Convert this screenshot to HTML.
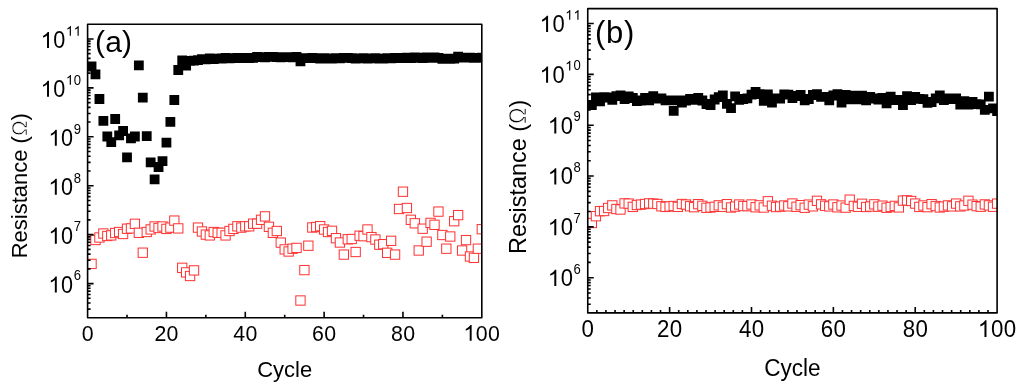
<!DOCTYPE html>
<html><head><meta charset="utf-8"><style>
html,body{margin:0;padding:0;background:#fff;}
svg{display:block;font-family:"Liberation Sans",sans-serif;}
</style></head><body>
<svg width="1024" height="386" viewBox="0 0 1024 386">
<rect width="1024" height="386" fill="#fff"/>
<clipPath id="ca"><rect x="87.6" y="24.2" width="394.20" height="293.60"/></clipPath>
<path clip-path="url(#ca)" d="M86.64 61.60h9.8v9.8h-9.8zM90.58 69.50h9.8v9.8h-9.8zM94.53 94.10h9.8v9.8h-9.8zM98.47 116.00h9.8v9.8h-9.8zM102.41 131.60h9.8v9.8h-9.8zM106.35 137.30h9.8v9.8h-9.8zM110.29 114.10h9.8v9.8h-9.8zM114.24 130.50h9.8v9.8h-9.8zM118.18 126.10h9.8v9.8h-9.8zM122.12 152.40h9.8v9.8h-9.8zM126.06 133.50h9.8v9.8h-9.8zM130.00 131.60h9.8v9.8h-9.8zM133.95 60.40h9.8v9.8h-9.8zM137.89 92.80h9.8v9.8h-9.8zM141.83 131.30h9.8v9.8h-9.8zM145.77 157.50h9.8v9.8h-9.8zM149.71 174.50h9.8v9.8h-9.8zM153.66 162.10h9.8v9.8h-9.8zM157.60 156.20h9.8v9.8h-9.8zM161.54 137.80h9.8v9.8h-9.8zM165.48 117.00h9.8v9.8h-9.8zM169.42 95.10h9.8v9.8h-9.8zM173.37 65.10h9.8v9.8h-9.8zM177.31 55.50h9.8v9.8h-9.8zM181.25 60.70h9.8v9.8h-9.8zM185.19 55.90h9.8v9.8h-9.8zM189.13 55.80h9.8v9.8h-9.8zM193.08 55.20h9.8v9.8h-9.8zM197.02 54.30h9.8v9.8h-9.8zM200.96 54.40h9.8v9.8h-9.8zM204.90 53.40h9.8v9.8h-9.8zM208.84 54.10h9.8v9.8h-9.8zM212.79 53.80h9.8v9.8h-9.8zM216.73 53.60h9.8v9.8h-9.8zM220.67 52.96h9.8v9.8h-9.8zM224.61 53.33h9.8v9.8h-9.8zM228.55 53.19h9.8v9.8h-9.8zM232.50 52.95h9.8v9.8h-9.8zM236.44 53.31h9.8v9.8h-9.8zM240.38 52.93h9.8v9.8h-9.8zM244.32 53.25h9.8v9.8h-9.8zM248.26 52.96h9.8v9.8h-9.8zM252.21 51.95h9.8v9.8h-9.8zM256.15 52.15h9.8v9.8h-9.8zM260.09 52.40h9.8v9.8h-9.8zM264.03 51.97h9.8v9.8h-9.8zM267.97 52.03h9.8v9.8h-9.8zM271.92 52.28h9.8v9.8h-9.8zM275.86 52.47h9.8v9.8h-9.8zM279.80 52.25h9.8v9.8h-9.8zM283.74 52.14h9.8v9.8h-9.8zM287.68 52.49h9.8v9.8h-9.8zM291.63 51.93h9.8v9.8h-9.8zM295.57 56.50h9.8v9.8h-9.8zM299.51 53.29h9.8v9.8h-9.8zM303.45 53.14h9.8v9.8h-9.8zM307.39 53.12h9.8v9.8h-9.8zM311.34 53.31h9.8v9.8h-9.8zM315.28 53.82h9.8v9.8h-9.8zM319.22 53.18h9.8v9.8h-9.8zM323.16 53.58h9.8v9.8h-9.8zM327.10 53.64h9.8v9.8h-9.8zM331.05 53.37h9.8v9.8h-9.8zM334.99 53.55h9.8v9.8h-9.8zM338.93 53.06h9.8v9.8h-9.8zM342.87 53.06h9.8v9.8h-9.8zM346.81 53.21h9.8v9.8h-9.8zM350.76 53.68h9.8v9.8h-9.8zM354.70 53.43h9.8v9.8h-9.8zM358.64 53.31h9.8v9.8h-9.8zM362.58 53.59h9.8v9.8h-9.8zM366.52 53.45h9.8v9.8h-9.8zM370.47 53.30h9.8v9.8h-9.8zM374.41 53.79h9.8v9.8h-9.8zM378.35 53.70h9.8v9.8h-9.8zM382.29 53.24h9.8v9.8h-9.8zM386.23 53.57h9.8v9.8h-9.8zM390.18 52.92h9.8v9.8h-9.8zM394.12 53.20h9.8v9.8h-9.8zM398.06 53.08h9.8v9.8h-9.8zM402.00 52.73h9.8v9.8h-9.8zM405.94 53.28h9.8v9.8h-9.8zM409.89 52.59h9.8v9.8h-9.8zM413.83 52.83h9.8v9.8h-9.8zM417.77 53.11h9.8v9.8h-9.8zM421.71 52.62h9.8v9.8h-9.8zM425.65 52.89h9.8v9.8h-9.8zM429.60 52.53h9.8v9.8h-9.8zM433.54 53.03h9.8v9.8h-9.8zM437.48 53.91h9.8v9.8h-9.8zM441.42 53.83h9.8v9.8h-9.8zM445.36 53.95h9.8v9.8h-9.8zM449.31 53.73h9.8v9.8h-9.8zM453.25 51.80h9.8v9.8h-9.8zM457.19 52.76h9.8v9.8h-9.8zM461.13 52.75h9.8v9.8h-9.8zM465.07 52.67h9.8v9.8h-9.8zM469.02 52.90h9.8v9.8h-9.8zM472.96 52.97h9.8v9.8h-9.8zM476.90 52.68h9.8v9.8h-9.8z" fill="#000"/>
<g clip-path="url(#ca)" fill="#fff" stroke="#ff3030" stroke-width="1.0"><rect x="86.89" y="259.25" width="9.3" height="9.3"/><rect x="90.83" y="235.35" width="9.3" height="9.3"/><rect x="94.78" y="232.85" width="9.3" height="9.3"/><rect x="98.72" y="228.85" width="9.3" height="9.3"/><rect x="102.66" y="231.35" width="9.3" height="9.3"/><rect x="106.60" y="230.75" width="9.3" height="9.3"/><rect x="110.54" y="228.35" width="9.3" height="9.3"/><rect x="114.49" y="227.35" width="9.3" height="9.3"/><rect x="118.43" y="229.35" width="9.3" height="9.3"/><rect x="122.37" y="224.05" width="9.3" height="9.3"/><rect x="126.31" y="223.75" width="9.3" height="9.3"/><rect x="130.25" y="219.15" width="9.3" height="9.3"/><rect x="134.20" y="228.15" width="9.3" height="9.3"/><rect x="138.14" y="248.05" width="9.3" height="9.3"/><rect x="142.08" y="227.35" width="9.3" height="9.3"/><rect x="146.02" y="224.75" width="9.3" height="9.3"/><rect x="149.96" y="221.85" width="9.3" height="9.3"/><rect x="153.91" y="223.35" width="9.3" height="9.3"/><rect x="157.85" y="221.85" width="9.3" height="9.3"/><rect x="161.79" y="224.25" width="9.3" height="9.3"/><rect x="165.73" y="222.95" width="9.3" height="9.3"/><rect x="169.67" y="215.95" width="9.3" height="9.3"/><rect x="173.62" y="223.75" width="9.3" height="9.3"/><rect x="177.56" y="263.15" width="9.3" height="9.3"/><rect x="181.50" y="267.75" width="9.3" height="9.3"/><rect x="185.44" y="271.35" width="9.3" height="9.3"/><rect x="189.38" y="265.75" width="9.3" height="9.3"/><rect x="193.33" y="222.95" width="9.3" height="9.3"/><rect x="197.27" y="226.85" width="9.3" height="9.3"/><rect x="201.21" y="229.95" width="9.3" height="9.3"/><rect x="205.15" y="230.75" width="9.3" height="9.3"/><rect x="209.09" y="227.35" width="9.3" height="9.3"/><rect x="213.04" y="228.15" width="9.3" height="9.3"/><rect x="216.98" y="228.15" width="9.3" height="9.3"/><rect x="220.92" y="230.75" width="9.3" height="9.3"/><rect x="224.86" y="226.35" width="9.3" height="9.3"/><rect x="228.80" y="224.25" width="9.3" height="9.3"/><rect x="232.75" y="221.65" width="9.3" height="9.3"/><rect x="236.69" y="222.95" width="9.3" height="9.3"/><rect x="240.63" y="221.65" width="9.3" height="9.3"/><rect x="244.57" y="221.65" width="9.3" height="9.3"/><rect x="248.51" y="219.05" width="9.3" height="9.3"/><rect x="252.46" y="219.05" width="9.3" height="9.3"/><rect x="256.40" y="215.15" width="9.3" height="9.3"/><rect x="260.34" y="211.75" width="9.3" height="9.3"/><rect x="264.28" y="222.15" width="9.3" height="9.3"/><rect x="268.22" y="228.15" width="9.3" height="9.3"/><rect x="272.17" y="226.35" width="9.3" height="9.3"/><rect x="276.11" y="237.95" width="9.3" height="9.3"/><rect x="280.05" y="244.75" width="9.3" height="9.3"/><rect x="283.99" y="246.85" width="9.3" height="9.3"/><rect x="287.93" y="244.05" width="9.3" height="9.3"/><rect x="291.88" y="243.25" width="9.3" height="9.3"/><rect x="295.82" y="295.85" width="9.3" height="9.3"/><rect x="299.76" y="265.45" width="9.3" height="9.3"/><rect x="303.70" y="241.05" width="9.3" height="9.3"/><rect x="307.64" y="222.85" width="9.3" height="9.3"/><rect x="311.59" y="222.35" width="9.3" height="9.3"/><rect x="315.53" y="221.55" width="9.3" height="9.3"/><rect x="319.47" y="224.85" width="9.3" height="9.3"/><rect x="323.41" y="227.35" width="9.3" height="9.3"/><rect x="327.35" y="226.15" width="9.3" height="9.3"/><rect x="331.30" y="233.55" width="9.3" height="9.3"/><rect x="335.24" y="237.85" width="9.3" height="9.3"/><rect x="339.18" y="249.95" width="9.3" height="9.3"/><rect x="343.12" y="234.65" width="9.3" height="9.3"/><rect x="347.06" y="234.35" width="9.3" height="9.3"/><rect x="351.01" y="247.35" width="9.3" height="9.3"/><rect x="354.95" y="231.05" width="9.3" height="9.3"/><rect x="358.89" y="231.55" width="9.3" height="9.3"/><rect x="362.83" y="224.85" width="9.3" height="9.3"/><rect x="366.77" y="232.45" width="9.3" height="9.3"/><rect x="370.72" y="234.85" width="9.3" height="9.3"/><rect x="374.66" y="240.05" width="9.3" height="9.3"/><rect x="378.60" y="239.55" width="9.3" height="9.3"/><rect x="382.54" y="248.15" width="9.3" height="9.3"/><rect x="386.48" y="236.15" width="9.3" height="9.3"/><rect x="390.43" y="249.95" width="9.3" height="9.3"/><rect x="394.37" y="204.35" width="9.3" height="9.3"/><rect x="398.31" y="187.05" width="9.3" height="9.3"/><rect x="402.25" y="203.35" width="9.3" height="9.3"/><rect x="406.19" y="215.15" width="9.3" height="9.3"/><rect x="410.14" y="218.65" width="9.3" height="9.3"/><rect x="414.08" y="245.85" width="9.3" height="9.3"/><rect x="418.02" y="224.05" width="9.3" height="9.3"/><rect x="421.96" y="237.05" width="9.3" height="9.3"/><rect x="425.90" y="218.25" width="9.3" height="9.3"/><rect x="429.85" y="220.15" width="9.3" height="9.3"/><rect x="433.79" y="206.95" width="9.3" height="9.3"/><rect x="437.73" y="230.35" width="9.3" height="9.3"/><rect x="441.67" y="244.05" width="9.3" height="9.3"/><rect x="445.61" y="231.85" width="9.3" height="9.3"/><rect x="449.56" y="216.55" width="9.3" height="9.3"/><rect x="453.50" y="210.45" width="9.3" height="9.3"/><rect x="457.44" y="245.85" width="9.3" height="9.3"/><rect x="461.38" y="235.45" width="9.3" height="9.3"/><rect x="465.32" y="251.85" width="9.3" height="9.3"/><rect x="469.27" y="253.15" width="9.3" height="9.3"/><rect x="473.21" y="244.05" width="9.3" height="9.3"/><rect x="477.15" y="224.55" width="9.3" height="9.3"/></g>
<clipPath id="cb"><rect x="587.75" y="8.6" width="409.35" height="304.30"/></clipPath>
<path clip-path="url(#cb)" d="M586.94 100.10h9.8v9.8h-9.8zM591.04 92.50h9.8v9.8h-9.8zM595.13 96.50h9.8v9.8h-9.8zM599.22 92.30h9.8v9.8h-9.8zM603.32 92.60h9.8v9.8h-9.8zM607.41 95.00h9.8v9.8h-9.8zM611.50 91.30h9.8v9.8h-9.8zM615.60 90.50h9.8v9.8h-9.8zM619.69 94.10h9.8v9.8h-9.8zM623.78 91.50h9.8v9.8h-9.8zM627.88 93.10h9.8v9.8h-9.8zM631.97 96.10h9.8v9.8h-9.8zM636.07 95.60h9.8v9.8h-9.8zM640.16 93.10h9.8v9.8h-9.8zM644.25 95.50h9.8v9.8h-9.8zM648.35 91.30h9.8v9.8h-9.8zM652.44 93.60h9.8v9.8h-9.8zM656.53 93.40h9.8v9.8h-9.8zM660.63 95.50h9.8v9.8h-9.8zM664.72 95.40h9.8v9.8h-9.8zM668.81 105.90h9.8v9.8h-9.8zM672.91 95.40h9.8v9.8h-9.8zM677.00 97.60h9.8v9.8h-9.8zM681.09 95.60h9.8v9.8h-9.8zM685.19 94.10h9.8v9.8h-9.8zM689.28 95.00h9.8v9.8h-9.8zM693.37 93.10h9.8v9.8h-9.8zM697.47 95.60h9.8v9.8h-9.8zM701.56 99.10h9.8v9.8h-9.8zM705.66 100.10h9.8v9.8h-9.8zM709.75 94.60h9.8v9.8h-9.8zM713.84 92.30h9.8v9.8h-9.8zM717.94 90.50h9.8v9.8h-9.8zM722.03 98.90h9.8v9.8h-9.8zM726.12 103.30h9.8v9.8h-9.8zM730.22 91.50h9.8v9.8h-9.8zM734.31 95.00h9.8v9.8h-9.8zM738.40 94.10h9.8v9.8h-9.8zM742.50 93.40h9.8v9.8h-9.8zM746.59 89.80h9.8v9.8h-9.8zM750.68 87.10h9.8v9.8h-9.8zM754.78 89.20h9.8v9.8h-9.8zM758.87 96.00h9.8v9.8h-9.8zM762.96 89.60h9.8v9.8h-9.8zM767.06 97.60h9.8v9.8h-9.8zM771.15 93.60h9.8v9.8h-9.8zM775.24 93.60h9.8v9.8h-9.8zM779.34 89.40h9.8v9.8h-9.8zM783.43 89.80h9.8v9.8h-9.8zM787.52 93.10h9.8v9.8h-9.8zM791.62 91.10h9.8v9.8h-9.8zM795.71 90.10h9.8v9.8h-9.8zM799.81 95.50h9.8v9.8h-9.8zM803.90 94.10h9.8v9.8h-9.8zM807.99 90.10h9.8v9.8h-9.8zM812.09 89.20h9.8v9.8h-9.8zM816.18 91.90h9.8v9.8h-9.8zM820.27 92.00h9.8v9.8h-9.8zM824.37 95.50h9.8v9.8h-9.8zM828.46 90.60h9.8v9.8h-9.8zM832.55 89.20h9.8v9.8h-9.8zM836.65 97.60h9.8v9.8h-9.8zM840.74 90.10h9.8v9.8h-9.8zM844.83 94.50h9.8v9.8h-9.8zM848.93 90.70h9.8v9.8h-9.8zM853.02 94.50h9.8v9.8h-9.8zM857.11 90.70h9.8v9.8h-9.8zM861.21 95.50h9.8v9.8h-9.8zM865.30 92.10h9.8v9.8h-9.8zM869.40 93.60h9.8v9.8h-9.8zM873.49 94.70h9.8v9.8h-9.8zM877.58 93.10h9.8v9.8h-9.8zM881.68 98.50h9.8v9.8h-9.8zM885.77 91.70h9.8v9.8h-9.8zM889.86 95.30h9.8v9.8h-9.8zM893.96 94.90h9.8v9.8h-9.8zM898.05 100.20h9.8v9.8h-9.8zM902.14 91.30h9.8v9.8h-9.8zM906.24 95.30h9.8v9.8h-9.8zM910.33 92.10h9.8v9.8h-9.8zM914.42 94.00h9.8v9.8h-9.8zM918.52 94.30h9.8v9.8h-9.8zM922.61 97.90h9.8v9.8h-9.8zM926.70 97.10h9.8v9.8h-9.8zM930.80 93.40h9.8v9.8h-9.8zM934.89 90.40h9.8v9.8h-9.8zM938.98 95.30h9.8v9.8h-9.8zM943.08 93.60h9.8v9.8h-9.8zM947.17 94.10h9.8v9.8h-9.8zM951.26 93.40h9.8v9.8h-9.8zM955.36 99.80h9.8v9.8h-9.8zM959.45 96.20h9.8v9.8h-9.8zM963.55 99.80h9.8v9.8h-9.8zM967.64 96.90h9.8v9.8h-9.8zM971.73 99.20h9.8v9.8h-9.8zM975.83 99.50h9.8v9.8h-9.8zM979.92 105.00h9.8v9.8h-9.8zM984.01 91.70h9.8v9.8h-9.8zM988.11 103.40h9.8v9.8h-9.8zM992.20 106.30h9.8v9.8h-9.8z" fill="#000"/>
<g clip-path="url(#cb)" fill="#fff" stroke="#ff3030" stroke-width="1.0"><rect x="587.19" y="218.35" width="9.3" height="9.3"/><rect x="591.29" y="211.55" width="9.3" height="9.3"/><rect x="595.38" y="206.55" width="9.3" height="9.3"/><rect x="599.47" y="206.35" width="9.3" height="9.3"/><rect x="603.57" y="203.35" width="9.3" height="9.3"/><rect x="607.66" y="200.75" width="9.3" height="9.3"/><rect x="611.75" y="204.35" width="9.3" height="9.3"/><rect x="615.85" y="204.85" width="9.3" height="9.3"/><rect x="619.94" y="198.75" width="9.3" height="9.3"/><rect x="624.03" y="198.95" width="9.3" height="9.3"/><rect x="628.13" y="202.25" width="9.3" height="9.3"/><rect x="632.22" y="200.35" width="9.3" height="9.3"/><rect x="636.32" y="199.95" width="9.3" height="9.3"/><rect x="640.41" y="199.35" width="9.3" height="9.3"/><rect x="644.50" y="198.75" width="9.3" height="9.3"/><rect x="648.60" y="198.95" width="9.3" height="9.3"/><rect x="652.69" y="199.35" width="9.3" height="9.3"/><rect x="656.78" y="201.65" width="9.3" height="9.3"/><rect x="660.88" y="202.25" width="9.3" height="9.3"/><rect x="664.97" y="201.85" width="9.3" height="9.3"/><rect x="669.06" y="201.35" width="9.3" height="9.3"/><rect x="673.16" y="202.25" width="9.3" height="9.3"/><rect x="677.25" y="199.35" width="9.3" height="9.3"/><rect x="681.34" y="199.90" width="9.3" height="9.3"/><rect x="685.44" y="201.61" width="9.3" height="9.3"/><rect x="689.53" y="202.55" width="9.3" height="9.3"/><rect x="693.62" y="199.52" width="9.3" height="9.3"/><rect x="697.72" y="201.16" width="9.3" height="9.3"/><rect x="701.81" y="203.15" width="9.3" height="9.3"/><rect x="705.91" y="202.85" width="9.3" height="9.3"/><rect x="710.00" y="202.16" width="9.3" height="9.3"/><rect x="714.09" y="200.68" width="9.3" height="9.3"/><rect x="718.19" y="202.15" width="9.3" height="9.3"/><rect x="722.28" y="199.54" width="9.3" height="9.3"/><rect x="726.37" y="202.85" width="9.3" height="9.3"/><rect x="730.47" y="201.94" width="9.3" height="9.3"/><rect x="734.56" y="199.86" width="9.3" height="9.3"/><rect x="738.65" y="201.34" width="9.3" height="9.3"/><rect x="742.75" y="201.49" width="9.3" height="9.3"/><rect x="746.84" y="199.83" width="9.3" height="9.3"/><rect x="750.93" y="202.61" width="9.3" height="9.3"/><rect x="755.03" y="200.70" width="9.3" height="9.3"/><rect x="759.12" y="202.87" width="9.3" height="9.3"/><rect x="763.21" y="196.65" width="9.3" height="9.3"/><rect x="767.31" y="201.07" width="9.3" height="9.3"/><rect x="771.40" y="202.38" width="9.3" height="9.3"/><rect x="775.49" y="201.95" width="9.3" height="9.3"/><rect x="779.59" y="200.84" width="9.3" height="9.3"/><rect x="783.68" y="201.69" width="9.3" height="9.3"/><rect x="787.77" y="198.88" width="9.3" height="9.3"/><rect x="791.87" y="202.11" width="9.3" height="9.3"/><rect x="795.96" y="200.49" width="9.3" height="9.3"/><rect x="800.06" y="203.09" width="9.3" height="9.3"/><rect x="804.15" y="199.97" width="9.3" height="9.3"/><rect x="808.24" y="201.69" width="9.3" height="9.3"/><rect x="812.34" y="196.15" width="9.3" height="9.3"/><rect x="816.43" y="199.71" width="9.3" height="9.3"/><rect x="820.52" y="201.11" width="9.3" height="9.3"/><rect x="824.62" y="201.73" width="9.3" height="9.3"/><rect x="828.71" y="199.85" width="9.3" height="9.3"/><rect x="832.80" y="202.65" width="9.3" height="9.3"/><rect x="836.90" y="200.89" width="9.3" height="9.3"/><rect x="840.99" y="202.96" width="9.3" height="9.3"/><rect x="845.08" y="195.05" width="9.3" height="9.3"/><rect x="849.18" y="201.28" width="9.3" height="9.3"/><rect x="853.27" y="202.14" width="9.3" height="9.3"/><rect x="857.36" y="199.12" width="9.3" height="9.3"/><rect x="861.46" y="202.35" width="9.3" height="9.3"/><rect x="865.55" y="201.85" width="9.3" height="9.3"/><rect x="869.65" y="199.70" width="9.3" height="9.3"/><rect x="873.74" y="202.04" width="9.3" height="9.3"/><rect x="877.83" y="201.01" width="9.3" height="9.3"/><rect x="881.93" y="203.10" width="9.3" height="9.3"/><rect x="886.02" y="202.35" width="9.3" height="9.3"/><rect x="890.11" y="201.26" width="9.3" height="9.3"/><rect x="894.21" y="202.76" width="9.3" height="9.3"/><rect x="898.30" y="195.95" width="9.3" height="9.3"/><rect x="902.39" y="195.75" width="9.3" height="9.3"/><rect x="906.49" y="196.35" width="9.3" height="9.3"/><rect x="910.58" y="198.92" width="9.3" height="9.3"/><rect x="914.67" y="202.28" width="9.3" height="9.3"/><rect x="918.77" y="200.83" width="9.3" height="9.3"/><rect x="922.86" y="202.52" width="9.3" height="9.3"/><rect x="926.95" y="199.54" width="9.3" height="9.3"/><rect x="931.05" y="201.38" width="9.3" height="9.3"/><rect x="935.14" y="202.81" width="9.3" height="9.3"/><rect x="939.23" y="201.95" width="9.3" height="9.3"/><rect x="943.33" y="200.77" width="9.3" height="9.3"/><rect x="947.42" y="201.70" width="9.3" height="9.3"/><rect x="951.51" y="198.95" width="9.3" height="9.3"/><rect x="955.61" y="201.75" width="9.3" height="9.3"/><rect x="959.70" y="200.85" width="9.3" height="9.3"/><rect x="963.80" y="196.15" width="9.3" height="9.3"/><rect x="967.89" y="200.01" width="9.3" height="9.3"/><rect x="971.98" y="201.50" width="9.3" height="9.3"/><rect x="976.08" y="202.04" width="9.3" height="9.3"/><rect x="980.17" y="199.78" width="9.3" height="9.3"/><rect x="984.26" y="200.78" width="9.3" height="9.3"/><rect x="988.36" y="202.09" width="9.3" height="9.3"/><rect x="992.45" y="198.97" width="9.3" height="9.3"/></g>
<rect x="87.6" y="24.2" width="394.20" height="293.60" fill="none" stroke="#000" stroke-width="1.6" stroke-linejoin="round"/>
<path d="M127.02 317.80V314.80 M166.44 317.80V311.80 M205.86 317.80V314.80 M245.28 317.80V311.80 M284.70 317.80V314.80 M324.12 317.80V311.80 M363.54 317.80V314.80 M402.96 317.80V311.80 M442.38 317.80V314.80 M87.60 309.16H90.60 M87.60 303.05H90.60 M87.60 298.31H90.60 M87.60 294.44H90.60 M87.60 291.16H90.60 M87.60 288.32H90.60 M87.60 285.82H90.60 M87.60 283.58H93.60 M87.60 268.85H90.60 M87.60 260.23H90.60 M87.60 254.12H90.60 M87.60 249.38H90.60 M87.60 245.51H90.60 M87.60 242.23H90.60 M87.60 239.39H90.60 M87.60 236.89H90.60 M87.60 234.65H93.60 M87.60 219.92H90.60 M87.60 211.30H90.60 M87.60 205.19H90.60 M87.60 200.45H90.60 M87.60 196.58H90.60 M87.60 193.30H90.60 M87.60 190.46H90.60 M87.60 187.96H90.60 M87.60 185.72H93.60 M87.60 170.99H90.60 M87.60 162.37H90.60 M87.60 156.26H90.60 M87.60 151.52H90.60 M87.60 147.65H90.60 M87.60 144.37H90.60 M87.60 141.53H90.60 M87.60 139.03H90.60 M87.60 136.79H93.60 M87.60 122.06H90.60 M87.60 113.44H90.60 M87.60 107.33H90.60 M87.60 102.59H90.60 M87.60 98.72H90.60 M87.60 95.44H90.60 M87.60 92.60H90.60 M87.60 90.10H90.60 M87.60 87.86H93.60 M87.60 73.13H90.60 M87.60 64.51H90.60 M87.60 58.40H90.60 M87.60 53.66H90.60 M87.60 49.79H90.60 M87.60 46.51H90.60 M87.60 43.67H90.60 M87.60 41.17H90.60 M87.60 38.93H93.60" stroke="#000" stroke-width="1.6" fill="none"/>
<rect x="587.75" y="8.6" width="409.35" height="304.30" fill="none" stroke="#000" stroke-width="1.6" stroke-linejoin="round"/>
<path d="M596.85 312.90V309.90 M605.94 312.90V309.90 M615.04 312.90V309.90 M624.14 312.90V309.90 M633.23 312.90V309.90 M642.33 312.90V309.90 M651.43 312.90V309.90 M660.52 312.90V309.90 M669.62 312.90V306.90 M678.72 312.90V309.90 M687.81 312.90V309.90 M696.91 312.90V309.90 M706.01 312.90V309.90 M715.10 312.90V309.90 M724.20 312.90V309.90 M733.30 312.90V309.90 M742.39 312.90V309.90 M751.49 312.90V306.90 M760.59 312.90V309.90 M769.68 312.90V309.90 M778.78 312.90V309.90 M787.88 312.90V309.90 M796.97 312.90V309.90 M806.07 312.90V309.90 M815.17 312.90V309.90 M824.26 312.90V309.90 M833.36 312.90V306.90 M842.46 312.90V309.90 M851.55 312.90V309.90 M860.65 312.90V309.90 M869.75 312.90V309.90 M878.84 312.90V309.90 M887.94 312.90V309.90 M897.04 312.90V309.90 M906.13 312.90V309.90 M915.23 312.90V306.90 M924.33 312.90V309.90 M933.42 312.90V309.90 M942.52 312.90V309.90 M951.62 312.90V309.90 M960.71 312.90V309.90 M969.81 312.90V309.90 M978.91 312.90V309.90 M988.00 312.90V309.90 M587.75 304.28H590.75 M587.75 297.93H590.75 M587.75 293.00H590.75 M587.75 288.98H590.75 M587.75 285.57H590.75 M587.75 282.63H590.75 M587.75 280.03H590.75 M587.75 277.70H593.75 M587.75 262.40H590.75 M587.75 253.45H590.75 M587.75 247.10H590.75 M587.75 242.17H590.75 M587.75 238.15H590.75 M587.75 234.74H590.75 M587.75 231.80H590.75 M587.75 229.20H590.75 M587.75 226.87H593.75 M587.75 211.57H590.75 M587.75 202.62H590.75 M587.75 196.27H590.75 M587.75 191.34H590.75 M587.75 187.32H590.75 M587.75 183.91H590.75 M587.75 180.97H590.75 M587.75 178.37H590.75 M587.75 176.04H593.75 M587.75 160.74H590.75 M587.75 151.79H590.75 M587.75 145.44H590.75 M587.75 140.51H590.75 M587.75 136.49H590.75 M587.75 133.08H590.75 M587.75 130.14H590.75 M587.75 127.54H590.75 M587.75 125.21H593.75 M587.75 109.91H590.75 M587.75 100.96H590.75 M587.75 94.61H590.75 M587.75 89.68H590.75 M587.75 85.66H590.75 M587.75 82.25H590.75 M587.75 79.31H590.75 M587.75 76.71H590.75 M587.75 74.38H593.75 M587.75 59.08H590.75 M587.75 50.13H590.75 M587.75 43.78H590.75 M587.75 38.85H590.75 M587.75 34.83H590.75 M587.75 31.42H590.75 M587.75 28.48H590.75 M587.75 25.88H590.75 M587.75 23.55H593.75" stroke="#000" stroke-width="1.6" fill="none"/>
<g fill="#000" style="will-change:transform">
<text transform="translate(87.60,340.80) scale(0.97,1.045)" font-size="22" text-anchor="middle">0</text>
<text transform="translate(160.32,340.80) scale(0.97,1.045)" font-size="22" text-anchor="middle">2</text>
<text transform="translate(172.56,340.80) scale(0.97,1.045)" font-size="22" text-anchor="middle">0</text>
<text transform="translate(239.16,340.80) scale(0.97,1.045)" font-size="22" text-anchor="middle">4</text>
<text transform="translate(251.40,340.80) scale(0.97,1.045)" font-size="22" text-anchor="middle">0</text>
<text transform="translate(318.00,340.80) scale(0.97,1.045)" font-size="22" text-anchor="middle">6</text>
<text transform="translate(330.24,340.80) scale(0.97,1.045)" font-size="22" text-anchor="middle">0</text>
<text transform="translate(396.84,340.80) scale(0.97,1.045)" font-size="22" text-anchor="middle">8</text>
<text transform="translate(409.08,340.80) scale(0.97,1.045)" font-size="22" text-anchor="middle">0</text>
<path transform="translate(463.45,340.80) scale(0.01074,-0.01074)" d="M763 0L583 0L583 1147C539 1105 481 1063 409 1021C338 979 274 947 217 926L217 1100C319 1148 408 1206 484 1274C560 1342 614 1408 646 1472L763 1472Z"/>
<text transform="translate(481.80,340.80) scale(0.97,1.045)" font-size="22" text-anchor="middle">0</text>
<text transform="translate(494.04,340.80) scale(0.97,1.045)" font-size="22" text-anchor="middle">0</text>
<path transform="translate(48.49,292.58) scale(0.01089,-0.01089)" d="M763 0L583 0L583 1147C539 1105 481 1063 409 1021C338 979 274 947 217 926L217 1100C319 1148 408 1206 484 1274C560 1342 614 1408 646 1472L763 1472Z"/>
<text transform="translate(67.09,292.58) scale(0.97,1.045)" font-size="22.3" text-anchor="middle">0</text>
<text transform="translate(77.45,280.38) scale(0.97,1.045)" font-size="13.5" text-anchor="middle">6</text>
<path transform="translate(48.49,243.65) scale(0.01089,-0.01089)" d="M763 0L583 0L583 1147C539 1105 481 1063 409 1021C338 979 274 947 217 926L217 1100C319 1148 408 1206 484 1274C560 1342 614 1408 646 1472L763 1472Z"/>
<text transform="translate(67.09,243.65) scale(0.97,1.045)" font-size="22.3" text-anchor="middle">0</text>
<text transform="translate(77.45,231.45) scale(0.97,1.045)" font-size="13.5" text-anchor="middle">7</text>
<path transform="translate(48.49,194.72) scale(0.01089,-0.01089)" d="M763 0L583 0L583 1147C539 1105 481 1063 409 1021C338 979 274 947 217 926L217 1100C319 1148 408 1206 484 1274C560 1342 614 1408 646 1472L763 1472Z"/>
<text transform="translate(67.09,194.72) scale(0.97,1.045)" font-size="22.3" text-anchor="middle">0</text>
<text transform="translate(77.45,182.52) scale(0.97,1.045)" font-size="13.5" text-anchor="middle">8</text>
<path transform="translate(48.49,145.79) scale(0.01089,-0.01089)" d="M763 0L583 0L583 1147C539 1105 481 1063 409 1021C338 979 274 947 217 926L217 1100C319 1148 408 1206 484 1274C560 1342 614 1408 646 1472L763 1472Z"/>
<text transform="translate(67.09,145.79) scale(0.97,1.045)" font-size="22.3" text-anchor="middle">0</text>
<text transform="translate(77.45,133.59) scale(0.97,1.045)" font-size="13.5" text-anchor="middle">9</text>
<path transform="translate(40.68,96.86) scale(0.01089,-0.01089)" d="M763 0L583 0L583 1147C539 1105 481 1063 409 1021C338 979 274 947 217 926L217 1100C319 1148 408 1206 484 1274C560 1342 614 1408 646 1472L763 1472Z"/>
<text transform="translate(59.28,96.86) scale(0.97,1.045)" font-size="22.3" text-anchor="middle">0</text>
<path transform="translate(65.88,84.66) scale(0.00659,-0.00659)" d="M763 0L583 0L583 1147C539 1105 481 1063 409 1021C338 979 274 947 217 926L217 1100C319 1148 408 1206 484 1274C560 1342 614 1408 646 1472L763 1472Z"/>
<text transform="translate(77.45,84.66) scale(0.97,1.045)" font-size="13.5" text-anchor="middle">0</text>
<path transform="translate(40.68,47.93) scale(0.01089,-0.01089)" d="M763 0L583 0L583 1147C539 1105 481 1063 409 1021C338 979 274 947 217 926L217 1100C319 1148 408 1206 484 1274C560 1342 614 1408 646 1472L763 1472Z"/>
<text transform="translate(59.28,47.93) scale(0.97,1.045)" font-size="22.3" text-anchor="middle">0</text>
<path transform="translate(65.88,35.73) scale(0.00659,-0.00659)" d="M763 0L583 0L583 1147C539 1105 481 1063 409 1021C338 979 274 947 217 926L217 1100C319 1148 408 1206 484 1274C560 1342 614 1408 646 1472L763 1472Z"/>
<path transform="translate(73.69,35.73) scale(0.00659,-0.00659)" d="M763 0L583 0L583 1147C539 1105 481 1063 409 1021C338 979 274 947 217 926L217 1100C319 1148 408 1206 484 1274C560 1342 614 1408 646 1472L763 1472Z"/>
<text transform="translate(284.70,377.20) scale(1,1.04)" font-size="22" text-anchor="middle">Cycle</text>
<text transform="translate(27.00,185.70) rotate(-90) scale(1,1.04)" font-size="22" text-anchor="middle">Resistance (<tspan font-size="20.90" stroke="#fff" stroke-width="0.6">&#937;</tspan>)</text>
<text x="95.00" y="51.50" font-size="30" text-anchor="start" letter-spacing="0.2">(a)</text>
<text transform="translate(587.75,336.90) scale(0.97,1.045)" font-size="23" text-anchor="middle">0</text>
<text transform="translate(663.22,336.90) scale(0.97,1.045)" font-size="23" text-anchor="middle">2</text>
<text transform="translate(676.02,336.90) scale(0.97,1.045)" font-size="23" text-anchor="middle">0</text>
<text transform="translate(745.09,336.90) scale(0.97,1.045)" font-size="23" text-anchor="middle">4</text>
<text transform="translate(757.89,336.90) scale(0.97,1.045)" font-size="23" text-anchor="middle">0</text>
<text transform="translate(826.96,336.90) scale(0.97,1.045)" font-size="23" text-anchor="middle">6</text>
<text transform="translate(839.76,336.90) scale(0.97,1.045)" font-size="23" text-anchor="middle">0</text>
<text transform="translate(908.83,336.90) scale(0.97,1.045)" font-size="23" text-anchor="middle">8</text>
<text transform="translate(921.63,336.90) scale(0.97,1.045)" font-size="23" text-anchor="middle">0</text>
<path transform="translate(977.91,336.90) scale(0.01123,-0.01123)" d="M763 0L583 0L583 1147C539 1105 481 1063 409 1021C338 979 274 947 217 926L217 1100C319 1148 408 1206 484 1274C560 1342 614 1408 646 1472L763 1472Z"/>
<text transform="translate(997.10,336.90) scale(0.97,1.045)" font-size="23" text-anchor="middle">0</text>
<text transform="translate(1009.89,336.90) scale(0.97,1.045)" font-size="23" text-anchor="middle">0</text>
<path transform="translate(547.84,286.10) scale(0.01108,-0.01108)" d="M763 0L583 0L583 1147C539 1105 481 1063 409 1021C338 979 274 947 217 926L217 1100C319 1148 408 1206 484 1274C560 1342 614 1408 646 1472L763 1472Z"/>
<text transform="translate(566.78,286.10) scale(0.97,1.045)" font-size="22.7" text-anchor="middle">0</text>
<text transform="translate(577.25,273.80) scale(0.97,1.045)" font-size="13.5" text-anchor="middle">6</text>
<path transform="translate(547.84,235.27) scale(0.01108,-0.01108)" d="M763 0L583 0L583 1147C539 1105 481 1063 409 1021C338 979 274 947 217 926L217 1100C319 1148 408 1206 484 1274C560 1342 614 1408 646 1472L763 1472Z"/>
<text transform="translate(566.78,235.27) scale(0.97,1.045)" font-size="22.7" text-anchor="middle">0</text>
<text transform="translate(577.25,222.97) scale(0.97,1.045)" font-size="13.5" text-anchor="middle">7</text>
<path transform="translate(547.84,184.44) scale(0.01108,-0.01108)" d="M763 0L583 0L583 1147C539 1105 481 1063 409 1021C338 979 274 947 217 926L217 1100C319 1148 408 1206 484 1274C560 1342 614 1408 646 1472L763 1472Z"/>
<text transform="translate(566.78,184.44) scale(0.97,1.045)" font-size="22.7" text-anchor="middle">0</text>
<text transform="translate(577.25,172.14) scale(0.97,1.045)" font-size="13.5" text-anchor="middle">8</text>
<path transform="translate(547.84,133.61) scale(0.01108,-0.01108)" d="M763 0L583 0L583 1147C539 1105 481 1063 409 1021C338 979 274 947 217 926L217 1100C319 1148 408 1206 484 1274C560 1342 614 1408 646 1472L763 1472Z"/>
<text transform="translate(566.78,133.61) scale(0.97,1.045)" font-size="22.7" text-anchor="middle">0</text>
<text transform="translate(577.25,121.31) scale(0.97,1.045)" font-size="13.5" text-anchor="middle">9</text>
<path transform="translate(539.63,82.78) scale(0.01108,-0.01108)" d="M763 0L583 0L583 1147C539 1105 481 1063 409 1021C338 979 274 947 217 926L217 1100C319 1148 408 1206 484 1274C560 1342 614 1408 646 1472L763 1472Z"/>
<text transform="translate(558.57,82.78) scale(0.97,1.045)" font-size="22.7" text-anchor="middle">0</text>
<path transform="translate(565.28,70.48) scale(0.00659,-0.00659)" d="M763 0L583 0L583 1147C539 1105 481 1063 409 1021C338 979 274 947 217 926L217 1100C319 1148 408 1206 484 1274C560 1342 614 1408 646 1472L763 1472Z"/>
<text transform="translate(577.25,70.48) scale(0.97,1.045)" font-size="13.5" text-anchor="middle">0</text>
<path transform="translate(539.63,31.95) scale(0.01108,-0.01108)" d="M763 0L583 0L583 1147C539 1105 481 1063 409 1021C338 979 274 947 217 926L217 1100C319 1148 408 1206 484 1274C560 1342 614 1408 646 1472L763 1472Z"/>
<text transform="translate(558.57,31.95) scale(0.97,1.045)" font-size="22.7" text-anchor="middle">0</text>
<path transform="translate(565.28,19.65) scale(0.00659,-0.00659)" d="M763 0L583 0L583 1147C539 1105 481 1063 409 1021C338 979 274 947 217 926L217 1100C319 1148 408 1206 484 1274C560 1342 614 1408 646 1472L763 1472Z"/>
<path transform="translate(573.49,19.65) scale(0.00659,-0.00659)" d="M763 0L583 0L583 1147C539 1105 481 1063 409 1021C338 979 274 947 217 926L217 1100C319 1148 408 1206 484 1274C560 1342 614 1408 646 1472L763 1472Z"/>
<text transform="translate(792.42,375.80) scale(1,1.04)" font-size="22.6" text-anchor="middle">Cycle</text>
<text transform="translate(526.00,176.80) rotate(-90) scale(1,1.04)" font-size="23.4" text-anchor="middle">Resistance (<tspan font-size="22.23" stroke="#fff" stroke-width="0.6">&#937;</tspan>)</text>
<text x="595.00" y="42.60" font-size="31" text-anchor="start" letter-spacing="0.7">(b)</text>
</g>
</svg>
</body></html>
